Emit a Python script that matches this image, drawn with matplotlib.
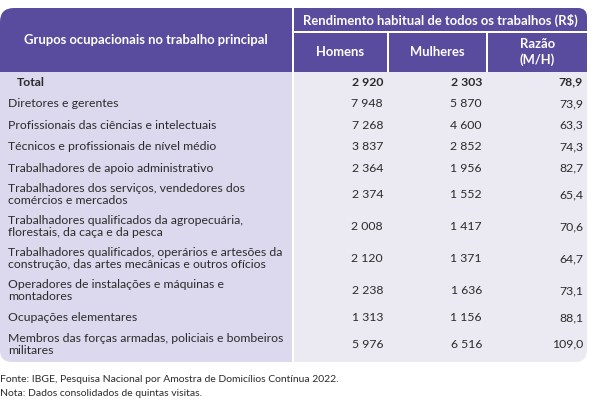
import matplotlib.pyplot as plt
from matplotlib.patches import FancyBboxPatch, Rectangle

plt.rcParams['font.family'] = ['Lato', 'DejaVu Sans']

grupos = ['Total',
          'Diretores e gerentes',
          'Profissionais das ciências e intelectuais',
          'Técnicos e profissionais de nível médio',
          'Trabalhadores de apoio administrativo',
          'Trabalhadores dos serviços, vendedores dos\ncomércios e mercados',
          'Trabalhadores qualificados da agropecuária,\nflorestais, da caça e da pesca',
          'Trabalhadores qualificados, operários e artesões da\nconstrução, das artes mecânicas e outros ofícios',
          'Operadores de instalações e máquinas e\nmontadores',
          'Ocupações elementares',
          'Membros das forças armadas, policiais e bombeiros\nmilitares']
homens = [2920, 7948, 7268, 3837, 2364, 2374, 2008, 2120, 2238, 1313, 5976]
mulheres = [2303, 5870, 4600, 2852, 1956, 1552, 1417, 1371, 1636, 1156, 6516]
razao = [78.9, 73.9, 63.3, 74.3, 82.7, 65.4, 70.6, 64.7, 73.1, 88.1, 109.0]

titulo_grupos = 'Grupos ocupacionais no trabalho principal'
titulo_rend = 'Rendimento habitual de todos os trabalhos (R$)'
colunas = ['Homens', 'Mulheres', 'Razão\n(M/H)']
fonte = 'Fonte: IBGE, Pesquisa Nacional por Amostra de Domicílios Contínua 2022.'
nota = 'Nota: Dados consolidados de quintas visitas.'

roxo = '#594b9e'
lilas = '#dcd9ee'
cinza = '#ebeaf3'
texto = '#2b2b2b'


def fmt_int(v):
    return f'{v:,}'.replace(',', ' ')


def fmt_dec(v):
    return f'{v:.1f}'.replace('.', ',')


def caixa(ax, x0, y0, x1, y1, cor, r, quadrados):
    ax.add_patch(FancyBboxPatch((x0 + r, y0 + r), x1 - x0 - 2 * r, y1 - y0 - 2 * r,
                                boxstyle=f'round,pad={r}', fc=cor, ec='none'))
    for (a, b, c, d) in quadrados:
        ax.add_patch(Rectangle((a, b), c - a, d - b, fc=cor, ec='none'))


fig = plt.figure(figsize=(6, 4.12), dpi=100)
ax = fig.add_axes([0, 0, 1, 1])
ax.set_xlim(0, 600)
ax.set_ylim(412, 0)
ax.axis('off')

# cabeçalho
caixa(ax, 0, 8, 292, 72, roxo, 14, [(0, 30, 292, 72), (100, 8, 292, 72)])
caixa(ax, 294, 8, 587, 31, roxo, 9, [(294, 20, 587, 31), (294, 8, 500, 31)])
xs_col = [(294, 386.5), (388.5, 486), (488, 587)]
for (a, b) in xs_col:
    ax.add_patch(Rectangle((a, 33), b - a, 39, fc=roxo, ec='none'))

# corpo
caixa(ax, 0, 72, 292, 362, lilas, 12, [(0, 72, 292, 200), (100, 72, 292, 362)])
caixa(ax, 294, 72, 587, 362, cinza, 12, [(294, 72, 587, 200), (294, 72, 450, 362)])

ax.text(146, 40, titulo_grupos, color='white', fontsize=9.4, fontweight='bold',
        ha='center', va='center')
ax.text(440.5, 20, titulo_rend, color='white', fontsize=9.4, fontweight='bold',
        ha='center', va='center')
for (a, b), c in zip(xs_col, colunas):
    ax.text((a + b) / 2, 52, c, color='white', fontsize=9.4, fontweight='bold',
            ha='center', va='center', linespacing=1.3)

# linhas
y = 82
prev = None
x_num = [383, 482, 583]
for i, g in enumerate(grupos):
    h = 32 if '\n' in g else 21.5
    if prev is not None:
        y += (prev + h) / 2
    prev = h
    peso = 'bold' if i == 0 else 'normal'
    ax.text(17 if i == 0 else 8, y, g, color=texto, fontsize=8.8, fontweight=peso,
            ha='left', va='center', linespacing=1.1)
    vals = [fmt_int(homens[i]), fmt_int(mulheres[i]), fmt_dec(razao[i])]
    for xv, v in zip(x_num, vals):
        ax.text(xv, y, v, color=texto, fontsize=8.8, fontweight=peso,
                ha='right', va='center')

ax.text(0, 380, fonte, color=texto, fontsize=7.5, ha='left', va='center')
ax.text(0, 393, nota, color=texto, fontsize=7.5, ha='left', va='center')

fig.savefig('out.png', dpi=100, facecolor='white')
